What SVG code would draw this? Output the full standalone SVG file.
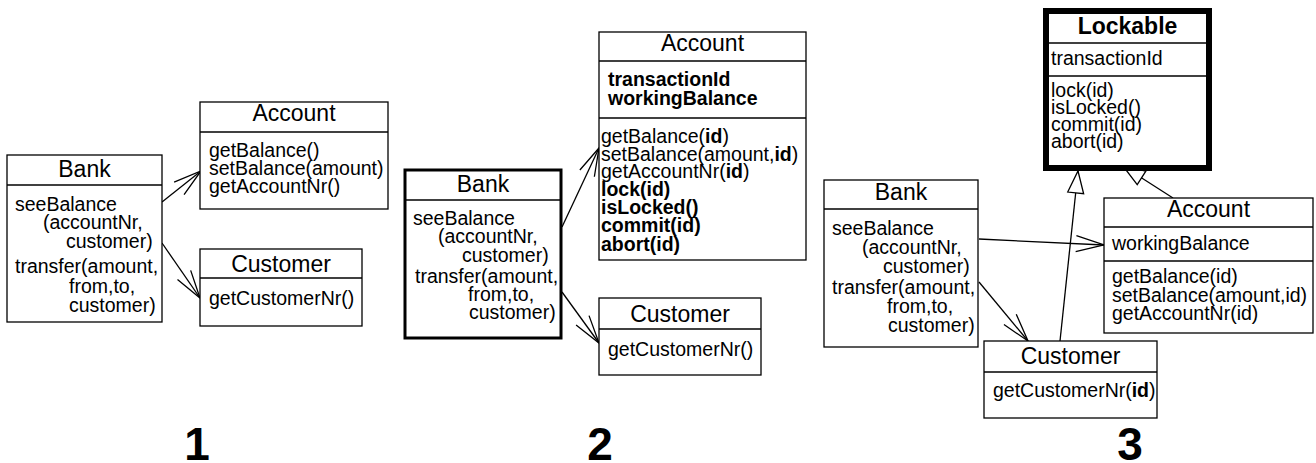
<svg xmlns="http://www.w3.org/2000/svg" width="1316" height="463" viewBox="0 0 1316 463">
<style>
.box{fill:#fff;stroke:#000;stroke-width:1.3}
.thick{stroke-width:3}
.thicker{stroke-width:6}
.div{stroke:#000;stroke-width:1.3}
text{font-family:"Liberation Sans",Arial,Helvetica,sans-serif;font-size:19.5px;fill:#000}
.title{font-size:23px;text-anchor:middle}
.b{font-weight:bold}
.num{font-size:46px;font-weight:bold;text-anchor:middle}
.conn{stroke:#000;stroke-width:1.3;fill:none}
</style>
<defs>
<marker id="open" viewBox="0 0 30 18" refX="29" refY="9" markerWidth="30" markerHeight="18" orient="auto" markerUnits="userSpaceOnUse" overflow="visible"><path d="M1,1 L29,9 L1,17" fill="none" stroke="#000" stroke-width="1.3"/></marker>
<marker id="tri" viewBox="0 0 24 18" refX="23" refY="9" markerWidth="24" markerHeight="18" orient="auto" markerUnits="userSpaceOnUse" overflow="visible"><path d="M1,1 L23,9 L1,17 Z" fill="#fff" stroke="#000" stroke-width="1.3"/></marker>
</defs>
<g id="connectors">
<line class="conn" x1="162" y1="202" x2="201" y2="171" marker-end="url(#open)"/>
<line class="conn" x1="162" y1="243" x2="200" y2="298" marker-end="url(#open)"/>
<line class="conn" x1="562" y1="227" x2="599" y2="148" marker-end="url(#open)"/>
<line class="conn" x1="562" y1="292" x2="599" y2="343" marker-end="url(#open)"/>
<line class="conn" x1="979" y1="239" x2="1104" y2="245" marker-end="url(#open)"/>
<line class="conn" x1="979" y1="282" x2="1028" y2="341" marker-end="url(#open)"/>
<line class="conn" x1="1060" y1="341" x2="1078" y2="171" marker-end="url(#tri)"/>
<line class="conn" x1="1173" y1="198" x2="1123" y2="166" marker-end="url(#tri)"/>
</g>
<g id="bank1">
<rect class="box" x="7" y="155" width="155" height="167"/>
<line class="div" x1="7" y1="185" x2="162" y2="185"/>
<text class="title" x="84.5" y="177">Bank</text>
<text x="15" y="211">seeBalance</text>
<text x="43" y="229">(accountNr,</text>
<text x="66" y="248">customer)</text>
<text x="15" y="273">transfer(amount,</text>
<text x="69" y="293">from,to,</text>
<text x="69" y="312">customer)</text>
</g>
<g id="account1">
<rect class="box" x="200" y="102" width="188" height="107"/>
<line class="div" x1="200" y1="132" x2="388" y2="132"/>
<text class="title" x="294" y="121">Account</text>
<text x="209" y="157">getBalance()</text>
<text x="209" y="175">setBalance(amount)</text>
<text x="209" y="193">getAccountNr()</text>
</g>
<g id="customer1">
<rect class="box" x="200" y="249" width="162" height="77"/>
<line class="div" x1="200" y1="278" x2="362" y2="278"/>
<text class="title" x="281" y="272">Customer</text>
<text x="209" y="305">getCustomerNr()</text>
</g>
<g id="bank2">
<rect class="box thick" x="405" y="170" width="156" height="168"/>
<line class="div" x1="405" y1="200" x2="561" y2="200"/>
<text class="title" x="483" y="192">Bank</text>
<text x="413" y="225">seeBalance</text>
<text x="438" y="243">(accountNr,</text>
<text x="462" y="262">customer)</text>
<text x="415" y="283">transfer(amount,</text>
<text x="468" y="301">from,to,</text>
<text x="469" y="319">customer)</text>
</g>
<g id="account2">
<rect class="box" x="599" y="32" width="207" height="228"/>
<line class="div" x1="599" y1="61" x2="806" y2="61"/>
<line class="div" x1="599" y1="118" x2="806" y2="118"/>
<text class="title" x="702.5" y="51">Account</text>
<text class="b" x="608" y="86">transactionId</text>
<text class="b" x="608" y="105">workingBalance</text>
<text x="601" y="143">getBalance(<tspan class="b">id</tspan>)</text>
<text x="601" y="161">setBalance(amount,<tspan class="b">id</tspan>)</text>
<text x="601" y="178">getAccountNr(<tspan class="b">id</tspan>)</text>
<text class="b" x="601" y="196">lock(id)</text>
<text class="b" x="601" y="214">isLocked()</text>
<text class="b" x="601" y="232">commit(id)</text>
<text class="b" x="601" y="251">abort(id)</text>
</g>
<g id="customer2">
<rect class="box" x="599" y="298" width="162" height="77"/>
<line class="div" x1="599" y1="329" x2="761" y2="329"/>
<text class="title" x="680" y="322">Customer</text>
<text x="608" y="356">getCustomerNr()</text>
</g>
<g id="lockable">
<rect class="box thicker" x="1046" y="11" width="163" height="157"/>
<line class="div" x1="1046" y1="43" x2="1209" y2="43"/>
<line class="div" x1="1046" y1="76" x2="1209" y2="76"/>
<text class="title b" x="1127.5" y="34">Lockable</text>
<text x="1051" y="65">transactionId</text>
<text x="1051" y="97">lock(id)</text>
<text x="1051" y="114">isLocked()</text>
<text x="1051" y="131">commit(id)</text>
<text x="1051" y="148">abort(id)</text>
</g>
<g id="bank3">
<rect class="box" x="824" y="180" width="154" height="167"/>
<line class="div" x1="824" y1="209" x2="978" y2="209"/>
<text class="title" x="901" y="200">Bank</text>
<text x="832" y="235">seeBalance</text>
<text x="862" y="254">(accountNr,</text>
<text x="883" y="273">customer)</text>
<text x="832" y="294">transfer(amount,</text>
<text x="887" y="313">from,to,</text>
<text x="888" y="332">customer)</text>
</g>
<g id="account3">
<rect class="box" x="1104" y="198" width="209" height="135"/>
<line class="div" x1="1104" y1="227" x2="1313" y2="227"/>
<line class="div" x1="1104" y1="261" x2="1313" y2="261"/>
<text class="title" x="1208.5" y="217">Account</text>
<text x="1112" y="250">workingBalance</text>
<text x="1112" y="283">getBalance(id)</text>
<text x="1112" y="302">setBalance(amount,id)</text>
<text x="1112" y="320">getAccountNr(id)</text>
</g>
<g id="customer3">
<rect class="box" x="984" y="341" width="173" height="77"/>
<line class="div" x1="984" y1="372" x2="1157" y2="372"/>
<text class="title" x="1070.5" y="364">Customer</text>
<text x="993" y="397">getCustomerNr(<tspan class="b">id</tspan>)</text>
</g>
<g id="labels">
<text class="num" x="197" y="460">1</text>
<text class="num" x="600" y="460">2</text>
<text class="num" x="1130" y="460">3</text>
</g>
</svg>
